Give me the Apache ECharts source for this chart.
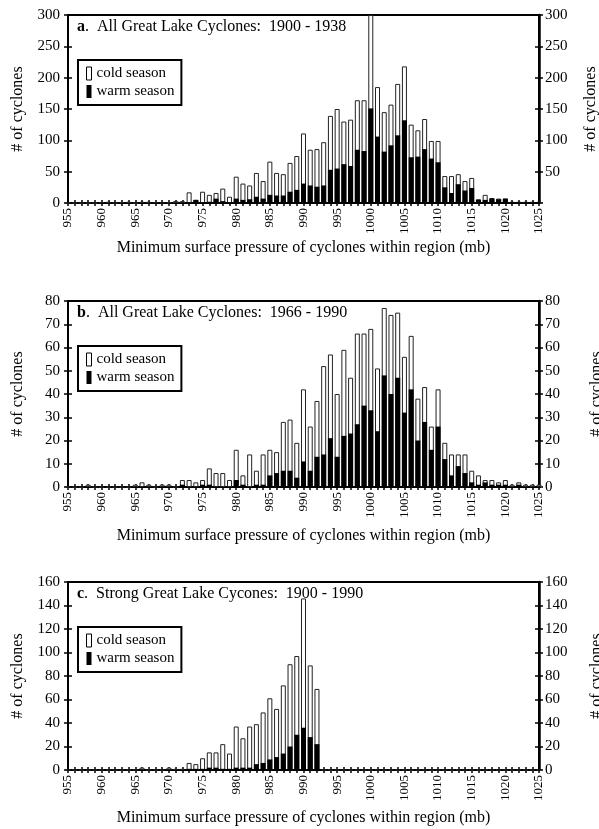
<!DOCTYPE html>
<html><head><meta charset="utf-8">
<script src="https://cdn.jsdelivr.net/npm/echarts@6/dist/echarts.min.js"></script>
<style>html,body{margin:0;padding:0;background:#fff}#c{width:599px;height:829px}</style>
</head><body><div id="c"></div>
<script>
const pressures = [955,956,957,958,959,960,961,962,963,964,965,966,967,968,969,970,971,972,973,974,975,976,977,978,979,980,981,982,983,984,985,986,987,988,989,990,991,992,993,994,995,996,997,998,999,1000,1001,1002,1003,1004,1005,1006,1007,1008,1009,1010,1011,1012,1013,1014,1015,1016,1017,1018,1019,1020,1021,1022,1023,1024,1025];

const coldA = [0,0,0,0,0, 1,2,0,1,2, 0,2,2,1,1, 1,3,3,17,5, 18,13,16,23,10, 42,31,28,48,35, 66,48,46,64,75, 111,85,86,97,139, 150,130,133,164,164, 300,185,145,157,190, 218,125,116,134,99, 99,43,43,46,35, 40,6,13,8,7, 7,2,2,2,2, 2];
const warmA = [0,0,0,0,0, 0,0,0,0,0, 0,0,0,0,0, 0,0,0,1,5, 1,2,7,3,1, 7,5,6,10,7, 13,12,12,18,21, 31,28,26,28,53, 55,62,59,85,83, 151,106,82,92,108, 132,73,74,86,71, 65,25,16,30,20, 24,5,5,7,6, 7,1,1,1,1, 1];

const coldB = [0,0,0,1,0, 0,0,0,0,0, 1,2,1,0,1, 1,0,3,3,2, 3,8,6,6,3, 16,5,14,7,14, 16,15,28,29,19, 42,26,37,52,57, 40,59,47,66,66, 68,51,77,74,75, 56,65,38,43,26, 42,19,14,14,14, 7,5,3,3,2, 3,1,2,1,1, 1];
const warmB = [0,0,0,0,0, 0,0,0,0,0, 0,0,0,0,0, 0,0,1,0,0, 1,1,0,0,0, 3,1,0,1,1, 5,6,7,7,4, 11,7,13,14,21, 13,22,23,27,35, 33,24,48,40,47, 32,42,20,28,16, 26,12,5,9,6, 2,1,2,1,1, 1,0,1,0,0, 0];

const coldC = [0,0,0,0,0, 0,0,0,0,0, 0,2,0,0,0, 2,1,1,6,5, 10,15,15,22,14, 37,27,37,39,49, 61,52,72,90,97, 146,89,69,0,0, 0,0,0,0,0, 0,0,0,0,0, 0,0,0,0,0, 0,0,0,0,0, 0,0,0,0,0, 0,0,0,0,0, 0];
const warmC = [0,0,0,0,0, 0,0,0,0,0, 0,0,0,0,0, 0,0,0,1,1, 1,2,2,1,1, 2,2,2,5,6, 9,11,14,20,30, 36,28,22,0,0, 0,0,0,0,0, 0,0,0,0,0, 0,0,0,0,0, 0,0,0,0,0, 0,0,0,0,0, 0,0,0,0,0, 0];

const panelLetters = ['a', 'b', 'c'];
const panelTitles = ['All Great Lake Cyclones:  1900 - 1938', 'All Great Lake Cyclones:  1966 - 1990', 'Strong Great Lake Cycones:  1900 - 1990'];
const yMaxes = [300, 80, 160];
const yIntervals = [50, 10, 20];
const xName = 'Minimum surface pressure of cyclones within region (mb)';
const yName = '# of cyclones';
const legendNames = ['cold season', 'warm season'];

const colds = [coldA, coldB, coldC];
const warms = [warmA, warmB, warmC];

const FONT = '"Liberation Serif", "Times New Roman", serif';
const grids = [
  {left: 68, width: 471, top: 15, height: 188},
  {left: 68, width: 471, top: 301, height: 186},
  {left: 68, width: 471, top: 582, height: 188}
];
const rightNameGaps = [44, 50, 50];
const xNameGaps = [37, 41, 40];

const option = {
  animation: false,
  backgroundColor: '#fff',
  textStyle: {fontFamily: FONT, color: '#000'},
  grid: grids.map(g => Object.assign({show: true, borderColor: '#000', borderWidth: 2, backgroundColor: 'transparent', containLabel: false, outerBoundsMode: 'none'}, g)),
  title: panelTitles.map((t, i) => ({
    text: '{b|' + panelLetters[i] + '}.  ' + t,
    left: 77, top: grids[i].top + 4, padding: 0,
    textStyle: {fontFamily: FONT, fontSize: 16, fontWeight: 'normal', color: '#000',
      rich: {b: {fontFamily: FONT, fontSize: 16, fontWeight: 'bold', color: '#000'}}}
  })),
  legend: grids.map((g, i) => ({
    orient: 'vertical', left: 78, top: g.top + 45,
    data: [
      {name: legendNames[0], itemStyle: {color: '#fff', borderColor: '#000', borderWidth: 1}},
      {name: legendNames[1], itemStyle: {color: '#000', borderColor: '#000', borderWidth: 0}}
    ],
    icon: 'rect', itemWidth: 5, itemHeight: 13, itemGap: 3,
    padding: [6, 7, 6, 8],
    borderColor: '#000', borderWidth: 2, backgroundColor: '#fff',
    textStyle: {fontFamily: FONT, fontSize: 15, color: '#000'},
    selectedMode: false
  })),
  xAxis: [],
  yAxis: [],
  series: []
};

grids.forEach((g, i) => {
  option.xAxis.push({
    gridIndex: i, type: 'value', position: 'bottom', min: 955, max: 1025, interval: 1,
    name: xName, nameLocation: 'middle', nameGap: xNameGaps[i],
    nameTextStyle: {fontFamily: FONT, fontSize: 16, color: '#000'},
    axisLine: {show: true, lineStyle: {color: '#000', width: 2}},
    axisTick: {show: true, inside: false, length: 3, lineStyle: {color: '#000', width: 1.5}},
    axisLabel: {rotate: 90, margin: 5, fontFamily: FONT, fontSize: 13, color: '#000',
      formatter: v => (v % 5 === 0 ? String(v) : '')},
    splitLine: {show: false}
  });
  option.xAxis.push({
    gridIndex: i, type: 'value', position: 'bottom', min: 955, max: 1025, interval: 1,
    axisLine: {show: false},
    axisTick: {show: true, inside: true, length: 3, lineStyle: {color: '#000', width: 1.5}},
    axisLabel: {show: false}, splitLine: {show: false}
  });
  const yBase = {
    gridIndex: i, type: 'value', min: 0, max: yMaxes[i], interval: yIntervals[i],
    splitLine: {show: false}
  };
  option.yAxis.push(Object.assign({}, yBase, {
    position: 'left', name: yName, nameLocation: 'middle', nameGap: 42,
    nameTextStyle: {fontFamily: FONT, fontSize: 16, color: '#000'},
    axisLine: {show: true, lineStyle: {color: '#000', width: 2}},
    axisTick: {show: true, inside: false, length: 4, lineStyle: {color: '#000', width: 1.5}},
    axisLabel: {margin: 8, fontFamily: FONT, fontSize: 15, color: '#000'}
  }));
  option.yAxis.push(Object.assign({}, yBase, {
    position: 'right', name: yName, nameLocation: 'middle', nameGap: rightNameGaps[i], nameRotate: 90,
    nameTextStyle: {fontFamily: FONT, fontSize: 16, color: '#000'},
    axisLine: {show: true, lineStyle: {color: '#000', width: 2.5}},
    axisTick: {show: true, inside: false, length: 4, lineStyle: {color: '#000', width: 1.5}},
    axisLabel: {margin: 6, fontFamily: FONT, fontSize: 15, color: '#000',
      formatter: v => (i === 0 && v === 0 ? '' : String(v))}
  }));
  option.yAxis.push(Object.assign({}, yBase, {
    position: 'left', axisLine: {show: false},
    axisTick: {show: true, inside: true, length: 4, lineStyle: {color: '#000', width: 1.5}},
    axisLabel: {show: false}
  }));
  option.yAxis.push(Object.assign({}, yBase, {
    position: 'right', axisLine: {show: false},
    axisTick: {show: true, inside: true, length: 4, lineStyle: {color: '#000', width: 1.5}},
    axisLabel: {show: false}
  }));
  option.series.push({
    name: legendNames[0], type: 'bar', xAxisIndex: 2 * i, yAxisIndex: 4 * i,
    data: pressures.map((p, k) => [p, colds[i][k]]),
    barWidth: 5, barGap: '-100%',
    itemStyle: {color: '#fff', borderColor: '#222', borderWidth: 1}
  });
  option.series.push({
    name: legendNames[1], type: 'bar', xAxisIndex: 2 * i, yAxisIndex: 4 * i,
    data: pressures.map((p, k) => [p, warms[i][k]]),
    barWidth: 5, barGap: '-100%',
    itemStyle: {color: '#000', borderWidth: 0}
  });
});

const chart = echarts.init(document.getElementById('c'), null, {renderer: 'canvas'});
chart.setOption(option);
</script>
</body></html>
